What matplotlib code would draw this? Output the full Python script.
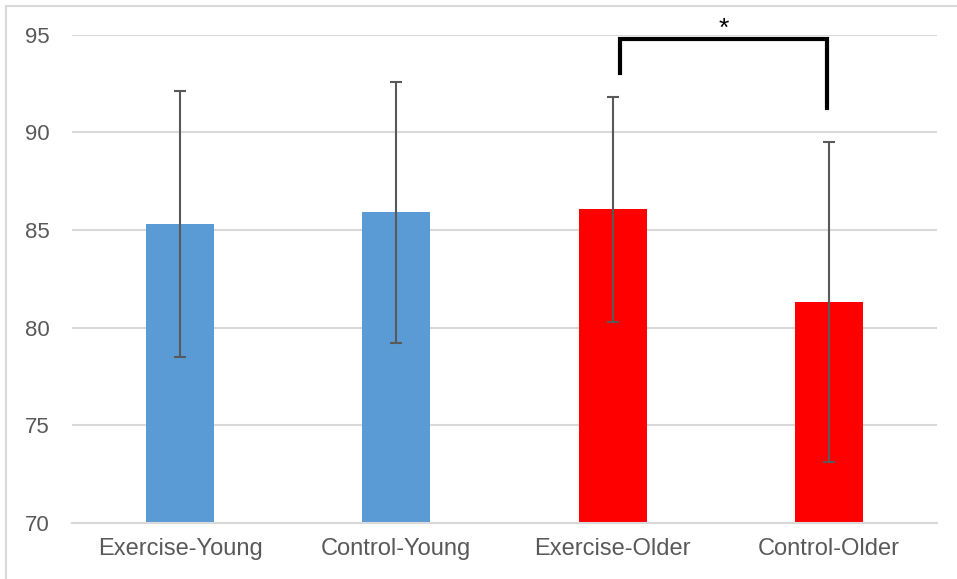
import matplotlib
matplotlib.use("Agg")
import matplotlib.pyplot as plt
from matplotlib.patches import Rectangle

groups = ["Exercise-Young", "Control-Young", "Exercise-Older", "Control-Older"]
means = [85.3, 85.9, 86.05, 81.3]
errs = [6.8, 6.7, 5.75, 8.2]
colors = ["#5B9BD5", "#5B9BD5", "#FF0000", "#FF0000"]

# significance bracket between Exercise-Older and Control-Older
sig_pair = (2, 3)
sig_top = 94.8
sig_legs = (93.05, 91.25)
sig_label = "*"

plt.rcParams['font.family'] = ['Liberation Sans', 'DejaVu Sans']
fig = plt.figure(figsize=(9.57, 5.79), dpi=100)
ax = fig.add_axes([72/957, 56.3/579, 865/957, 488/579])

x = range(len(groups))
ax.bar(x, means, width=0.315, color=colors, zorder=2)
ax.errorbar(x, means, yerr=errs, fmt="none", ecolor="#595959",
            elinewidth=1.5, capsize=4.3, capthick=1.5, zorder=3)

ax.set_ylim(70, 95)
ax.set_xlim(-0.5, 3.5)
ax.set_yticks(range(70, 96, 5))
ax.set_xticks(list(x))
ax.set_xticklabels(groups)
ax.grid(axis="y", color="#D9D9D9", lw=1.5, zorder=0)
for s in ["top", "right", "left"]:
    ax.spines[s].set_visible(False)
ax.spines["bottom"].set_color("#D9D9D9")
ax.spines["bottom"].set_linewidth(1.5)
ax.tick_params(length=0, labelsize=16, colors="#595959")
ax.tick_params(axis="y", pad=16)
ax.tick_params(axis="x", pad=11, labelsize=17)

# bracket
x0, x1 = sig_pair[0] + 0.035, sig_pair[1] - 0.01
ax.plot([x0, x0, x1, x1], [sig_legs[0], sig_top, sig_top, sig_legs[1]],
        color="black", lw=3, solid_joinstyle="miter", clip_on=False, zorder=4)
ax.text((x0 + x1) / 2, sig_top - 0.1, sig_label, ha="center", va="bottom",
        fontsize=19, color="black")

# chart border
fig.patches.append(Rectangle((6/957, -0.1), 1.2, (579 - 5.5)/579 + 0.1,
                             transform=fig.transFigure, fill=False,
                             edgecolor="#D9D9D9", lw=1.5))

fig.savefig("out.png", dpi=100)
